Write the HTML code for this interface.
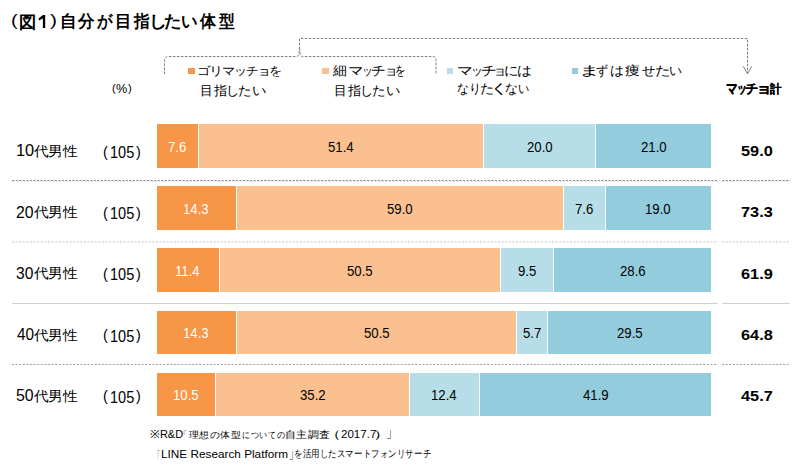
<!DOCTYPE html>
<html><head><meta charset="utf-8"><style>
html,body{margin:0;padding:0;background:#fff;}
body{width:800px;height:465px;position:relative;overflow:hidden;font-family:"Liberation Sans",sans-serif;color:#000;}
div{position:absolute;white-space:nowrap;}
.t{line-height:1;transform-origin:0 0;}
.sq{width:6px;height:6px;}
.dot{height:0;border-top:1px dotted #999;}
</style></head><body>
<svg style="position:absolute;left:0;top:0" width="800" height="465">
<g fill="none" stroke="#808080" stroke-width="1" stroke-dasharray="2.6,1.4">
<path d="M164.5 74 L164.5 61.5 Q164.5 56.5 168.5 56.5 L296.5 56.5 Q298.6 56.5 299 53 L299.5 48 L299.5 38.5 L747.5 38.5 L747.5 73.5"/>
<path d="M299.5 48 L300 53 Q300.4 56.5 302.5 56.5 L433 56.5 Q436 56.5 436 60 L436 74.5"/>
</g>
<path d="M743.3 66.3 L747.5 73.8 L751.8 66.3" fill="none" stroke="#808080" stroke-width="1"/>
<path d="M42.9 15.1H45.2V28H42.9V18.6L38.8 20.6V18.3Z" fill="#000"/>
<g fill="none" stroke-width="1">
<path d="M12 180.5H718M722 180.5H790" stroke="#8c8c8c" stroke-dasharray="2.2,1.35"/>
<path d="M13.5 181.5H718M723.5 181.5H790" stroke="#d8d8d8" stroke-dasharray="1.3,2.25"/>
<path d="M12 242H718M722 242H790" stroke="#c4c4c4" stroke-dasharray="2,1.6"/>
<path d="M12 303.5H718M722 303.5H790" stroke="#d0d0d0"/>
<path d="M12 364.5H718M722 364.5H790" stroke="#a0a0a0" stroke-dasharray="2,1.6"/>
</g>
</svg>
<div class="sq" style="left:188px;top:68px;width:7px;background:#F79646"></div>
<div class="sq" style="left:322px;top:68px;width:7px;background:#FAC090"></div>
<div class="sq" style="left:447px;top:68px;background:#B7DEE8"></div>
<div class="sq" style="left:572px;top:68px;background:#93CDDD"></div>
<div class="seg" style="left:157px;top:124.00px;width:41px;height:43.6px;background:#F79646"></div>
<div class="seg" style="left:199px;top:124.00px;width:284px;height:43.6px;background:#FAC090"></div>
<div class="seg" style="left:484px;top:124.00px;width:111px;height:43.6px;background:#B7DEE8"></div>
<div class="seg" style="left:596px;top:124.00px;width:115px;height:43.6px;background:#93CDDD"></div>
<div class="seg" style="left:157px;top:186.17px;width:79px;height:43.6px;background:#F79646"></div>
<div class="seg" style="left:237px;top:186.17px;width:326px;height:43.6px;background:#FAC090"></div>
<div class="seg" style="left:564px;top:186.17px;width:41px;height:43.6px;background:#B7DEE8"></div>
<div class="seg" style="left:606px;top:186.17px;width:105px;height:43.6px;background:#93CDDD"></div>
<div class="seg" style="left:157px;top:248.34px;width:62px;height:43.6px;background:#F79646"></div>
<div class="seg" style="left:220px;top:248.34px;width:280px;height:43.6px;background:#FAC090"></div>
<div class="seg" style="left:501px;top:248.34px;width:52px;height:43.6px;background:#B7DEE8"></div>
<div class="seg" style="left:554px;top:248.34px;width:157px;height:43.6px;background:#93CDDD"></div>
<div class="seg" style="left:157px;top:310.51px;width:79px;height:43.6px;background:#F79646"></div>
<div class="seg" style="left:237px;top:310.51px;width:279px;height:43.6px;background:#FAC090"></div>
<div class="seg" style="left:517px;top:310.51px;width:30px;height:43.6px;background:#B7DEE8"></div>
<div class="seg" style="left:548px;top:310.51px;width:163px;height:43.6px;background:#93CDDD"></div>
<div class="seg" style="left:157px;top:372.68px;width:58px;height:43.6px;background:#F79646"></div>
<div class="seg" style="left:216px;top:372.68px;width:193px;height:43.6px;background:#FAC090"></div>
<div class="seg" style="left:410px;top:372.68px;width:69px;height:43.6px;background:#B7DEE8"></div>
<div class="seg" style="left:480px;top:372.68px;width:231px;height:43.6px;background:#93CDDD"></div>
<div class="t" style="left:111.74px;top:83.10px;font-size:11px;transform:scale(1.0182,1.0049);">(</div>
<div class="t" style="left:116.33px;top:83.43px;font-size:11px;transform:scale(1.1444,1.1333);">%</div>
<div class="t" style="left:127.85px;top:83.10px;font-size:11px;transform:scale(1.0182,1.0049);">)</div>
<div class="t" style="left:15.54px;top:143.34px;font-size:15px;transform:scale(1.0915,1.0381);">10</div>
<div class="t" style="left:34.20px;top:143.93px;font-size:15px;transform:scale(0.9663,0.9193);">代男性</div>
<div class="t" style="left:103.34px;top:143.65px;font-size:15px;transform:scale(0.9600,1.0036);">(</div>
<div class="t" style="left:110.29px;top:144.03px;font-size:15px;transform:scale(0.9677,1.0476);">105</div>
<div class="t" style="left:135.56px;top:143.65px;font-size:15px;transform:scale(0.9600,1.0036);">)</div>
<div class="t" style="left:741.12px;top:143.36px;font-size:14px;font-weight:bold;transform:scale(1.1657,1.0615);">59.0</div>
<div class="t" style="left:16.11px;top:204.54px;font-size:15px;transform:scale(1.0557,1.0381);">20</div>
<div class="t" style="left:34.20px;top:205.13px;font-size:15px;transform:scale(0.9663,0.9193);">代男性</div>
<div class="t" style="left:103.34px;top:204.85px;font-size:15px;transform:scale(0.9600,1.0036);">(</div>
<div class="t" style="left:110.29px;top:205.23px;font-size:15px;transform:scale(0.9677,1.0476);">105</div>
<div class="t" style="left:135.56px;top:204.85px;font-size:15px;transform:scale(0.9600,1.0036);">)</div>
<div class="t" style="left:741.12px;top:204.62px;font-size:14px;font-weight:bold;transform:scale(1.1657,1.0350);">73.3</div>
<div class="t" style="left:16.38px;top:265.74px;font-size:15px;transform:scale(1.0387,1.0381);">30</div>
<div class="t" style="left:34.20px;top:266.33px;font-size:15px;transform:scale(0.9663,0.9193);">代男性</div>
<div class="t" style="left:103.34px;top:266.05px;font-size:15px;transform:scale(0.9600,1.0036);">(</div>
<div class="t" style="left:110.29px;top:266.43px;font-size:15px;transform:scale(0.9677,1.0476);">105</div>
<div class="t" style="left:135.56px;top:266.05px;font-size:15px;transform:scale(0.9600,1.0036);">)</div>
<div class="t" style="left:741.12px;top:265.76px;font-size:14px;font-weight:bold;transform:scale(1.1657,1.0615);">61.9</div>
<div class="t" style="left:16.64px;top:326.94px;font-size:15px;transform:scale(1.0222,1.0381);">40</div>
<div class="t" style="left:34.20px;top:327.53px;font-size:15px;transform:scale(0.9663,0.9193);">代男性</div>
<div class="t" style="left:103.34px;top:327.25px;font-size:15px;transform:scale(0.9600,1.0036);">(</div>
<div class="t" style="left:110.29px;top:327.63px;font-size:15px;transform:scale(0.9677,1.0476);">105</div>
<div class="t" style="left:135.56px;top:327.25px;font-size:15px;transform:scale(0.9600,1.0036);">)</div>
<div class="t" style="left:741.12px;top:326.96px;font-size:14px;font-weight:bold;transform:scale(1.1657,1.0615);">64.8</div>
<div class="t" style="left:16.11px;top:388.14px;font-size:15px;transform:scale(1.0557,1.0381);">50</div>
<div class="t" style="left:34.20px;top:388.73px;font-size:15px;transform:scale(0.9663,0.9193);">代男性</div>
<div class="t" style="left:103.34px;top:388.45px;font-size:15px;transform:scale(0.9600,1.0036);">(</div>
<div class="t" style="left:110.29px;top:388.83px;font-size:15px;transform:scale(0.9677,1.0476);">105</div>
<div class="t" style="left:135.56px;top:388.45px;font-size:15px;transform:scale(0.9600,1.0036);">)</div>
<div class="t" style="left:741.41px;top:387.83px;font-size:14px;font-weight:bold;transform:scale(1.1657,1.0895);">45.7</div>
<div class="t" style="left:197.02px;top:64.63px;font-size:13px;transform:scale(1.0756,0.9440)">ゴ</div>
<div class="t" style="left:209.37px;top:64.63px;font-size:13px;transform:scale(1.1111,0.9440)">リ</div>
<div class="t" style="left:222.26px;top:64.63px;font-size:13px;transform:scale(1.0419,0.9440)">マ</div>
<div class="t" style="left:233.96px;top:64.63px;font-size:13px;transform:scale(1.0176,0.9440)">ッ</div>
<div class="t" style="left:246.47px;top:64.63px;font-size:13px;transform:scale(0.9689,0.9440)">チ</div>
<div class="t" style="left:256.76px;top:64.63px;font-size:13px;transform:scale(1.1143,0.9440)">ョ</div>
<div class="t" style="left:268.65px;top:64.63px;font-size:13px;transform:scale(1.0341,0.9440)">を</div>
<div class="t" style="left:199.79px;top:83.51px;font-size:13px;transform:scale(0.9765,0.9878)">目</div>
<div class="t" style="left:213.75px;top:83.51px;font-size:13px;transform:scale(1.0000,0.9878)">指</div>
<div class="t" style="left:225.83px;top:83.51px;font-size:13px;transform:scale(1.0061,0.9878)">し</div>
<div class="t" style="left:238.32px;top:83.51px;font-size:13px;transform:scale(1.0364,0.9878)">た</div>
<div class="t" style="left:252.01px;top:83.51px;font-size:13px;transform:scale(1.0933,0.9878)">い</div>
<div class="t" style="left:332.85px;top:63.50px;font-size:13px;transform:scale(1.0708,1.0000)">細</div>
<div class="t" style="left:347.81px;top:63.50px;font-size:13px;transform:scale(1.1907,1.0000)">マ</div>
<div class="t" style="left:361.82px;top:63.50px;font-size:13px;transform:scale(0.8353,1.0000)">ッ</div>
<div class="t" style="left:371.45px;top:63.50px;font-size:13px;transform:scale(1.1378,1.0000)">チ</div>
<div class="t" style="left:383.74px;top:63.50px;font-size:13px;transform:scale(1.0857,1.0000)">ョ</div>
<div class="t" style="left:394.75px;top:63.50px;font-size:13px;transform:scale(0.8000,1.0000)">を</div>
<div class="t" style="left:333.79px;top:83.51px;font-size:13px;transform:scale(0.9765,0.9878)">目</div>
<div class="t" style="left:347.75px;top:83.51px;font-size:13px;transform:scale(1.0000,0.9878)">指</div>
<div class="t" style="left:359.83px;top:83.51px;font-size:13px;transform:scale(1.0061,0.9878)">し</div>
<div class="t" style="left:372.32px;top:83.51px;font-size:13px;transform:scale(1.0364,0.9878)">た</div>
<div class="t" style="left:386.01px;top:83.51px;font-size:13px;transform:scale(1.0933,0.9878)">い</div>
<div class="t" style="left:457.21px;top:63.79px;font-size:13px;transform:scale(1.1907,0.9778)">マ</div>
<div class="t" style="left:471.09px;top:63.79px;font-size:13px;transform:scale(0.8941,0.9778)">ッ</div>
<div class="t" style="left:480.71px;top:63.79px;font-size:13px;transform:scale(1.1822,0.9778)">チ</div>
<div class="t" style="left:493.36px;top:63.79px;font-size:13px;transform:scale(1.0143,0.9778)">ョ</div>
<div class="t" style="left:504.04px;top:63.79px;font-size:13px;transform:scale(1.0857,0.9778)">に</div>
<div class="t" style="left:517.08px;top:63.79px;font-size:13px;transform:scale(1.1182,0.9778)">は</div>
<div class="t" style="left:457.21px;top:81.97px;font-size:13px;transform:scale(0.9244,1.0213)">な</div>
<div class="t" style="left:469.11px;top:81.97px;font-size:13px;transform:scale(0.9429,1.0213)">り</div>
<div class="t" style="left:479.86px;top:81.97px;font-size:13px;transform:scale(1.1182,1.0213)">た</div>
<div class="t" style="left:489.83px;top:81.97px;font-size:13px;transform:scale(1.4476,1.0213)">く</div>
<div class="t" style="left:504.64px;top:81.97px;font-size:13px;transform:scale(1.0133,1.0213)">な</div>
<div class="t" style="left:518.32px;top:81.97px;font-size:13px;transform:scale(0.8800,1.0213)">い</div>
<div class="t" style="left:579.34px;top:63.85px;font-size:13px;transform:scale(1.5819,0.9887)">ま</div>
<div class="t" style="left:595.79px;top:63.85px;font-size:13px;transform:scale(0.9208,0.9887)">ず</div>
<div class="t" style="left:610.14px;top:63.85px;font-size:13px;transform:scale(1.0636,0.9887)">は</div>
<div class="t" style="left:624.61px;top:63.85px;font-size:13px;transform:scale(1.1574,0.9887)">痩</div>
<div class="t" style="left:641.55px;top:63.85px;font-size:13px;transform:scale(1.0041,0.9887)">せ</div>
<div class="t" style="left:654.51px;top:63.85px;font-size:13px;transform:scale(1.1818,0.9887)">た</div>
<div class="t" style="left:668.71px;top:63.85px;font-size:13px;transform:scale(0.9867,0.9887)">い</div>
<div class="t" style="left:726.32px;top:80.04px;font-size:13px;font-weight:bold;-webkit-text-stroke:0.15px #000;transform:scale(0.9130,1.2571)">マ</div>
<div class="t" style="left:736.59px;top:80.66px;font-size:13px;font-weight:bold;-webkit-text-stroke:0.15px #000;transform:scale(0.7547,1.0857)">ッ</div>
<div class="t" style="left:744.75px;top:81.78px;font-size:13px;font-weight:bold;-webkit-text-stroke:0.15px #000;transform:scale(1.0000,0.9787)">チ</div>
<div class="t" style="left:755.70px;top:80.72px;font-size:13px;font-weight:bold;-webkit-text-stroke:0.15px #000;transform:scale(1.2000,1.0625)">ョ</div>
<div class="t" style="left:769.73px;top:82.74px;font-size:13px;font-weight:bold;-webkit-text-stroke:0.15px #000;transform:scale(0.9057,0.9434)">計</div>
<div class="t" style="left:149.74px;top:428.36px;font-size:10.5px;transform:scale(1.1226,1.0839)">※</div>
<div class="t" style="left:160.22px;top:428.39px;font-size:10.5px;transform:scale(1.0381,1.0759)">R&amp;D</div>
<div class="t" style="left:178.42px;top:429.56px;font-size:10.5px;transform:scale(0.9566,0.8780)">「理想の体型</div>
<div class="t" style="left:242.31px;top:429.56px;font-size:10.5px;transform:scale(0.7906,0.8780)">についての</div>
<div class="t" style="left:284.71px;top:429.60px;font-size:10.5px;transform:scale(1.0241,0.9350)">自主調査</div>
<div class="t" style="left:325.04px;top:427.80px;font-size:10.5px;transform:scale(1.5500,1.0667)">（</div>
<div class="t" style="left:340.65px;top:428.62px;font-size:10.5px;transform:scale(1.1000,1.0345)">2017.7</div>
<div class="t" style="left:373.14px;top:427.80px;font-size:10.5px;transform:scale(1.7500,1.0667)">）</div>
<div class="t" style="left:386.02px;top:423.47px;font-size:10.5px;transform:scale(1.0769,1.5810)">」</div>
<div class="t" style="left:155.01px;top:448.67px;font-size:10.5px;transform:scale(0.4462,1.7333)">「</div>
<div class="t" style="left:161.41px;top:448.85px;font-size:10.5px;transform:scale(1.1217,1.0125)">LINE Research Platform</div>
<div class="t" style="left:289.11px;top:443.03px;font-size:10.5px;transform:scale(0.8923,1.6190)">」</div>
<div class="t" style="left:293.53px;top:449.13px;font-size:10.5px;transform:scale(0.7795,0.9200)">を活用したスマートフォンリサーチ</div>
<div class="t" style="left:168.25px;top:139.87px;font-size:13px;color:#fff;transform:scale(1.0133,1.0667)">7.6</div>
<div class="t" style="left:328.08px;top:139.87px;font-size:13px;color:#000;transform:scale(1.0133,1.0667)">51.4</div>
<div class="t" style="left:526.58px;top:139.87px;font-size:13px;color:#000;transform:scale(1.0133,1.0667)">20.0</div>
<div class="t" style="left:640.58px;top:139.87px;font-size:13px;color:#000;transform:scale(1.0133,1.0667)">21.0</div>
<div class="t" style="left:183.45px;top:201.87px;font-size:13px;color:#fff;transform:scale(1.0133,1.0667)">14.3</div>
<div class="t" style="left:387.21px;top:201.87px;font-size:13px;color:#000;transform:scale(1.0133,1.0667)">59.0</div>
<div class="t" style="left:575.25px;top:201.87px;font-size:13px;color:#000;transform:scale(1.0133,1.0667)">7.6</div>
<div class="t" style="left:645.45px;top:201.87px;font-size:13px;color:#000;transform:scale(1.0133,1.0667)">19.0</div>
<div class="t" style="left:175.33px;top:263.87px;font-size:13px;color:#fff;transform:scale(1.0133,1.0667)">11.4</div>
<div class="t" style="left:347.21px;top:263.87px;font-size:13px;color:#000;transform:scale(1.0133,1.0667)">50.5</div>
<div class="t" style="left:517.88px;top:263.87px;font-size:13px;color:#000;transform:scale(1.0133,1.0667)">9.5</div>
<div class="t" style="left:619.58px;top:263.87px;font-size:13px;color:#000;transform:scale(1.0133,1.0667)">28.6</div>
<div class="t" style="left:183.45px;top:325.87px;font-size:13px;color:#fff;transform:scale(1.0133,1.0667)">14.3</div>
<div class="t" style="left:363.71px;top:325.87px;font-size:13px;color:#000;transform:scale(1.0133,1.0667)">50.5</div>
<div class="t" style="left:522.88px;top:325.87px;font-size:13px;color:#000;transform:scale(1.0133,1.0667)">5.7</div>
<div class="t" style="left:616.58px;top:325.87px;font-size:13px;color:#000;transform:scale(1.0133,1.0667)">29.5</div>
<div class="t" style="left:172.95px;top:387.87px;font-size:13px;color:#fff;transform:scale(1.0133,1.0667)">10.5</div>
<div class="t" style="left:299.71px;top:387.87px;font-size:13px;color:#000;transform:scale(1.0133,1.0667)">35.2</div>
<div class="t" style="left:431.33px;top:387.87px;font-size:13px;color:#000;transform:scale(1.0133,1.0667)">12.4</div>
<div class="t" style="left:582.83px;top:387.87px;font-size:13px;color:#000;transform:scale(1.0133,1.0667)">41.9</div>
<div class="t" style="left:19.03px;top:13.70px;font-size:18px;font-weight:bold;transform:scale(0.9677,0.9507)">図</div>
<div class="t" style="left:59.89px;top:13.00px;font-size:18px;font-weight:bold;transform:scale(0.9321,0.9507)">自</div>
<div class="t" style="left:78.48px;top:13.00px;font-size:18px;font-weight:bold;transform:scale(0.9167,0.9507)">分</div>
<div class="t" style="left:97.00px;top:13.00px;font-size:18px;font-weight:bold;transform:scale(0.8587,0.9507)">が</div>
<div class="t" style="left:115.00px;top:13.00px;font-size:18px;font-weight:bold;transform:scale(0.9320,0.9507)">目</div>
<div class="t" style="left:134.44px;top:13.00px;font-size:18px;font-weight:bold;transform:scale(0.8750,0.9507)">指</div>
<div class="t" style="left:148.50px;top:13.00px;font-size:18px;font-weight:bold;transform:scale(1.0000,0.9507)">し</div>
<div class="t" style="left:164.17px;top:13.00px;font-size:18px;font-weight:bold;transform:scale(0.9746,0.9507)">た</div>
<div class="t" style="left:181.35px;top:13.00px;font-size:18px;font-weight:bold;transform:scale(0.9231,0.9507)">い</div>
<div class="t" style="left:200.20px;top:13.00px;font-size:18px;font-weight:bold;transform:scale(0.8919,0.9507)">体</div>
<div class="t" style="left:218.90px;top:13.00px;font-size:18px;font-weight:bold;transform:scale(0.8845,0.9507)">型</div>
<div class="t" style="left:10.98px;top:11.74px;font-size:18px;transform:scale(1.1158,0.9313)">(</div>
<div class="t" style="left:50.46px;top:11.74px;font-size:18px;transform:scale(1.1667,0.9313)">)</div>
</body></html>
